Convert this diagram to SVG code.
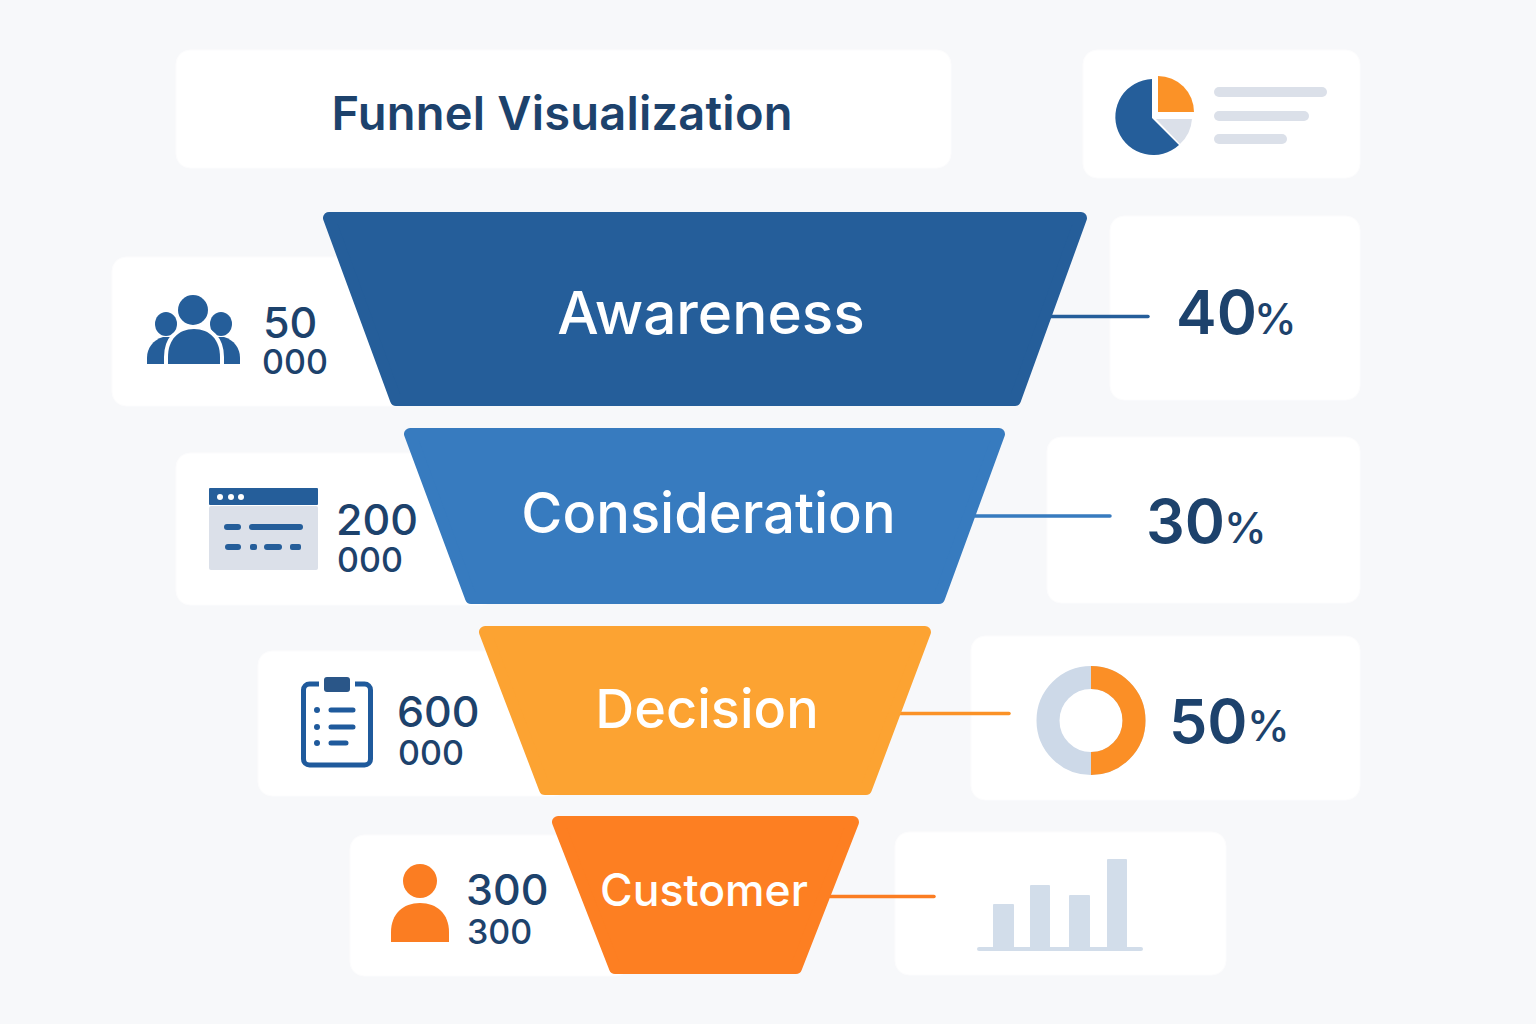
<svg xmlns="http://www.w3.org/2000/svg" width="1536" height="1024" viewBox="0 0 1536 1024">
<style>
.card{fill:#fff;stroke:#fcfcfd;stroke-width:1}
.t{font-family:Inter,"Liberation Sans",sans-serif;fill:#1d426c;font-weight:500}
.f{font-family:Inter,"Liberation Sans",sans-serif;fill:#fff;font-weight:500;text-anchor:middle}
.big{font-size:43px}.small{font-size:34px}
.pct{font-size:61px;font-weight:600}.ps{font-size:43px}
.fn{stroke-width:12;stroke-linejoin:round}
.blue{fill:#255e9a}.grey{fill:#dbe0e9}.bar{fill:#d2ddea}
.ln{stroke:#1f5a9c;stroke-width:5;stroke-linecap:round}
.cn{fill:none;stroke-width:3.500;stroke-linecap:round}
</style>
<rect width="1536" height="1024" fill="#f7f8fa"/>
<g id="title"><rect class="card" x="176" y="50" width="775" height="118" rx="14"/>
<text x="562" y="130" font-family="Inter,'Liberation Sans',sans-serif" font-size="47" font-weight="600" fill="#1d426c" text-anchor="middle" textLength="461">Funnel Visualization</text></g>
<g id="legend"><rect class="card" x="1083" y="50" width="277" height="128" rx="14"/>
<path class="blue" d="M1152,79A38,38 0 1 0 1179,145L1152,118Z"/>
<path fill="#fb9227" d="M1158,76A36,36 0 0 1 1194,112H1158Z"/>
<path class="grey" d="M1156,119H1192A38,38 0 0 1 1180,144Z"/>
<rect class="grey" x="1214" y="87" width="113" height="10" rx="5"/>
<rect class="grey" x="1214" y="111" width="95" height="10" rx="5"/>
<rect class="grey" x="1214" y="134" width="73" height="10" rx="5"/></g>
<g id="stat-awareness"><rect class="card" x="112" y="257" width="300" height="149" rx="14"/>
<ellipse class="blue" cx="166" cy="324" rx="11" ry="12"/><ellipse class="blue" cx="221" cy="324" rx="11" ry="12"/>
<path class="blue" d="M147,364V358C147,348 153,340 163,337H180V364Z"/>
<path class="blue" d="M240,364V358C240,348 234,340 224,337H207V364Z"/>
<path class="blue" stroke="#fff" stroke-width="8" paint-order="stroke" d="M168,364V357C168,340 178,329 194,329C210,329 220,340 220,357V364Z"/>
<rect x="147" y="364" width="94" height="6" fill="#fff"/>
<circle class="blue" cx="193" cy="310" r="15"/>
<text class="t big" x="263" y="338">50</text><text class="t small" x="262" y="374">000</text></g>
<g id="stat-consideration"><rect class="card" x="176" y="453" width="320" height="152" rx="14"/>
<rect class="blue" x="209" y="488" width="109" height="17" rx="1"/>
<rect class="grey" x="209" y="506" width="109" height="64" rx="2"/>
<circle fill="#fff" cx="220" cy="497" r="3"/><circle fill="#fff" cx="231" cy="497" r="3"/><circle fill="#fff" cx="241" cy="497" r="3"/>
<g class="blue"><rect x="224" y="524" width="17" height="6" rx="3"/><rect x="249" y="524" width="54" height="6" rx="3"/><rect x="225" y="544" width="16" height="6" rx="3"/><rect x="250" y="544" width="7" height="6" rx="2"/><rect x="264" y="544" width="18" height="6" rx="3"/><rect x="290" y="544" width="11" height="6" rx="2"/></g>
<text class="t big" x="336" y="535">200</text><text class="t small" x="337" y="572">000</text></g>
<g id="stat-decision"><rect class="card" x="258" y="651" width="310" height="145" rx="14"/>
<rect x="303.500" y="684" width="67" height="81" rx="6" fill="none" stroke="#1f5a9c" stroke-width="5"/>
<rect x="319" y="677" width="36" height="16" fill="#fff"/>
<rect x="324" y="677" width="26" height="15" rx="3" fill="#2a5688"/>
<circle fill="#1f5a9c" cx="317" cy="710" r="3"/><circle fill="#1f5a9c" cx="317" cy="727" r="3"/><circle fill="#1f5a9c" cx="317" cy="743" r="3"/>
<path class="ln" d="M331,710H353M331,727H353M331,743H346"/>
<text class="t big" x="397" y="727">600</text><text class="t small" x="398" y="765">000</text></g>
<g id="stat-customer"><rect class="card" x="350" y="835" width="280" height="141" rx="14"/>
<circle cx="420" cy="881" r="17" fill="#fb7d22"/>
<path fill="#fb7d22" d="M391,942V932C391,914 403,903 420,903C437,903 449,914 449,932V942Z"/>
<text class="t big" x="466" y="905">300</text><text class="t small" x="467" y="944">300</text></g>
<g id="rate-awareness"><rect class="card" x="1110" y="216" width="250" height="184" rx="14"/>
<text class="t pct" x="1176" y="334">40</text><text class="t ps" x="1254" y="334">%</text></g>
<g id="rate-consideration"><rect class="card" x="1047" y="437" width="313" height="166" rx="14"/>
<text class="t pct" x="1146" y="543">30</text><text class="t ps" x="1224" y="543">%</text></g>
<g id="rate-decision"><rect class="card" x="971" y="636" width="389" height="164" rx="14"/>
<circle cx="1091" cy="720.500" r="43" fill="none" stroke="#cdd9e8" stroke-width="23"/>
<path d="M1091,677.500A43,43 0 0 1 1091,763.500" fill="none" stroke="#fb8f26" stroke-width="23"/>
<text class="t pct" x="1169" y="743">50</text><text class="t ps" x="1247" y="741">%</text></g>
<g id="rate-customer"><rect class="card" x="895" y="832" width="331" height="143" rx="14"/>
<g class="bar"><rect x="993" y="904" width="21" height="45" rx="1"/><rect x="1030" y="885" width="20" height="64" rx="1"/><rect x="1069" y="895" width="21" height="54" rx="1"/><rect x="1107" y="859" width="20" height="90" rx="1"/><rect x="977" y="947" width="166" height="4" rx="2"/></g></g>
<g id="connectors">
<path class="cn" stroke="#255e9a" d="M1050,316.500H1148"/>
<path class="cn" stroke="#377bbf" d="M975,516H1110"/>
<path class="cn" stroke="#fb9227" d="M900,713.500H1009"/>
<path class="cn" stroke="#fb7d22" d="M830,896.500H934"/>
</g>
<g id="awareness"><path class="fn" fill="#255e9a" stroke="#255e9a" d="M329,218H1081L1015,400H396Z"/>
<text class="f" x="711" y="334" font-size="58.500">Awareness</text></g>
<g id="consideration"><path class="fn" fill="#377bbf" stroke="#377bbf" d="M410,434H999L939,598H471Z"/>
<text class="f" x="708.500" y="533" font-size="56">Consideration</text></g>
<g id="decision"><path class="fn" fill="#fca332" stroke="#fca332" d="M485,632H925L866,789H545Z"/>
<text class="f" x="707" y="728" font-size="54">Decision</text></g>
<g id="customer"><path class="fn" fill="#fd7f22" stroke="#fd7f22" d="M558,822H853L796,968H615Z"/>
<text class="f" x="704" y="906" font-size="44.500">Customer</text></g>
</svg>
